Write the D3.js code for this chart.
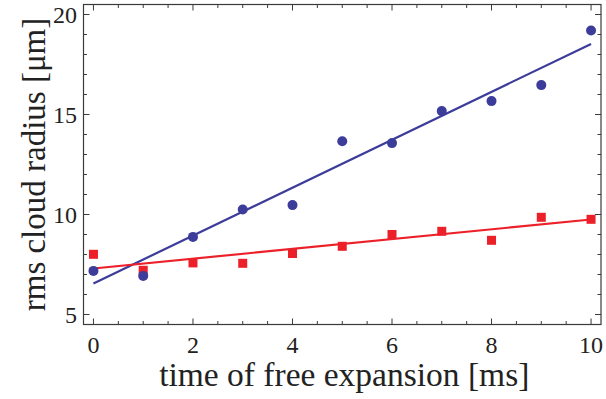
<!DOCTYPE html>
<html><head><meta charset="utf-8">
<script src="https://cdn.jsdelivr.net/npm/d3@7"></script>
<style>body{margin:0;background:#fff}svg{display:block}</style>
</head><body>
<svg id="c" width="606" height="399"></svg>
<script>
const times = [0,1,2,3,4,5,6,7,8,9,10];
const blueValues = [7.18,6.93,8.88,10.25,10.47,13.66,13.57,15.17,15.67,16.47,19.2];
const redValues = [8.01,7.21,7.58,7.56,8.05,8.41,9.0,9.16,8.71,9.86,9.76];
// linear fits: [value at t=0, value at t=10]
const blueFit = [6.55,18.53];
const redFit = [7.3,9.75];
const xTicks = [0,2,4,6,8,10];
const yTicks = [5,10,15,20];

const W=606,H=399, m={l:83.5,r:5,t:4.5,b:74.5};
const svg=d3.select('#c');
const x=d3.scaleLinear().domain([-0.2,10.2]).range([m.l,W-m.r]);
const y=d3.scaleLinear().domain([4.5,20.5]).range([H-m.b,m.t]);
const frame='#3a3a3a', font="'Liberation Serif', 'Times New Roman', serif";

svg.append('rect').attr('x',m.l).attr('y',m.t).attr('width',W-m.r-m.l).attr('height',H-m.b-m.t)
  .attr('fill','none').attr('stroke',frame).attr('stroke-width',1.2);

const xMinor=d3.range(0,10.01,0.5).filter(v=>v%2!==0);
const yMinor=d3.range(5,20.01,1).filter(v=>v%5!==0);
const g=svg.append('g').attr('stroke',frame).attr('stroke-width',1);
function vt(v,len){
  g.append('line').attr('x1',x(v)).attr('x2',x(v)).attr('y1',y.range()[0]).attr('y2',y.range()[0]-len);
  g.append('line').attr('x1',x(v)).attr('x2',x(v)).attr('y1',y.range()[1]).attr('y2',y.range()[1]+len);
}
function ht(v,len){
  g.append('line').attr('y1',y(v)).attr('y2',y(v)).attr('x1',x.range()[0]).attr('x2',x.range()[0]+len);
  g.append('line').attr('y1',y(v)).attr('y2',y(v)).attr('x1',x.range()[1]).attr('x2',x.range()[1]-len);
}
xTicks.forEach(v=>vt(v,6)); xMinor.forEach(v=>vt(v,3.5));
yTicks.forEach(v=>ht(v,6)); yMinor.forEach(v=>ht(v,3.5));

svg.append('g').selectAll('text').data(xTicks).join('text')
  .attr('x',d=>x(d)).attr('y',353).attr('text-anchor','middle')
  .style('font-family',font).attr('font-size',24).attr('fill','#222').text(d=>d);
svg.append('g').selectAll('text').data(yTicks).join('text')
  .attr('x',77).attr('y',d=>y(d)).attr('dy','0.34em').attr('text-anchor','end')
  .style('font-family',font).attr('font-size',24).attr('fill','#222').text(d=>d);

svg.append('text').attr('x',(m.l+W-m.r)/2+2).attr('y',386).attr('text-anchor','middle')
  .style('font-family',font).attr('font-size',33.5).attr('fill','#222').text('time of free expansion [ms]');
svg.append('text').attr('transform',`translate(45,${(m.t+H-m.b)/2}) rotate(-90)`).attr('text-anchor','middle')
  .style('font-family',font).attr('font-size',33).attr('fill','#222').text('rms cloud radius [μm]');

const blue='#3c3c9a', red='#ec2028';
const line=d3.line().x(d=>x(d[0])).y(d=>y(d[1]));
svg.append('path').attr('d',line([[0,blueFit[0]],[10,blueFit[1]]])).attr('stroke',blue).attr('stroke-width',2.2).attr('fill','none');
svg.append('path').attr('d',line([[0,redFit[0]],[10,redFit[1]]])).attr('stroke',red).attr('stroke-width',2.2).attr('fill','none');

svg.append('g').selectAll('rect').data(times).join('rect')
  .attr('x',d=>x(d)-4.5).attr('y',(d,i)=>y(redValues[i])-4.5).attr('width',9).attr('height',9).attr('fill',red);
svg.append('g').selectAll('circle').data(times).join('circle')
  .attr('cx',d=>x(d)).attr('cy',(d,i)=>y(blueValues[i])).attr('r',5).attr('fill',blue);
</script>
</body></html>
